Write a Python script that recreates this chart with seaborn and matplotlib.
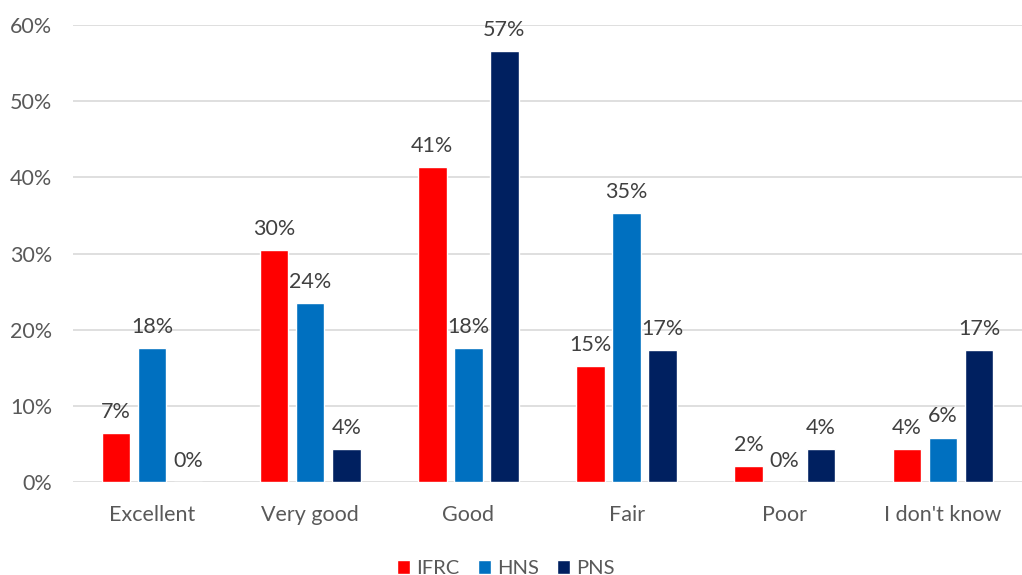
import matplotlib
matplotlib.use("Agg")
import matplotlib.pyplot as plt
import seaborn as sns
import pandas as pd

# Survey answers: share of respondents per rating
categories = ["Excellent", "Very good", "Good", "Fair", "Poor", "I don't know"]
series_names = ["IFRC", "HNS", "PNS"]
ifrc = [0.0652, 0.3043, 0.4130, 0.1522, 0.0217, 0.0435]
hns = [0.1765, 0.2353, 0.1765, 0.3529, 0.0, 0.0588]
pns = [0.0, 0.0435, 0.5652, 0.1739, 0.0435, 0.1739]
y_ticks = [0.0, 0.1, 0.2, 0.3, 0.4, 0.5, 0.6]
palette = {"IFRC": "#FF0000", "HNS": "#0070C0", "PNS": "#002060"}

df = pd.DataFrame({
    "category": categories * 3,
    "group": [s for s in series_names for _ in categories],
    "share": ifrc + hns + pns,
})

sns.set_theme(style="white")
plt.rcParams["font.family"] = ["Lato", "DejaVu Sans"]

fig = plt.figure(figsize=(10.22, 5.75), dpi=100)
ax = fig.add_axes([0.0714, 0.161, 0.9286, 0.796])

sns.barplot(data=df, x="category", y="share", hue="group",
            hue_order=series_names, order=categories, palette=palette,
            width=0.684, gap=0.21, saturation=1, errorbar=None, ax=ax)

for cont in ax.containers:
    ax.bar_label(cont, fmt=lambda v: f"{v:.0%}", padding=8,
                 fontsize=15.5, color="#404040")

ax.set_ylim(0, 0.6)
ax.set_yticks(y_ticks)
ax.set_yticklabels([f"{t:.0%}" for t in y_ticks])
ax.set_xlim(-0.5, len(categories) - 0.5)
ax.yaxis.grid(True, color="#D9D9D9", linewidth=1.2)
ax.set_axisbelow(True)
for s in ax.spines.values():
    s.set_visible(False)
ax.tick_params(axis="y", length=0, pad=15, labelsize=15.5, labelcolor="#595959")
ax.tick_params(axis="x", length=0, pad=16, labelsize=15.5, labelcolor="#595959")
ax.set_xlabel("")
ax.set_ylabel("")

handles, labels = ax.get_legend_handles_labels()
ax.get_legend().remove()
fig.legend(handles, labels, loc="lower center", bbox_to_anchor=(0.495, -0.035),
           ncol=3, frameon=False, fontsize=14.5, handlelength=0.65,
           handleheight=0.65, handletextpad=0.3, columnspacing=0.9,
           labelcolor="#595959")

fig.savefig("out.png", dpi=100)
